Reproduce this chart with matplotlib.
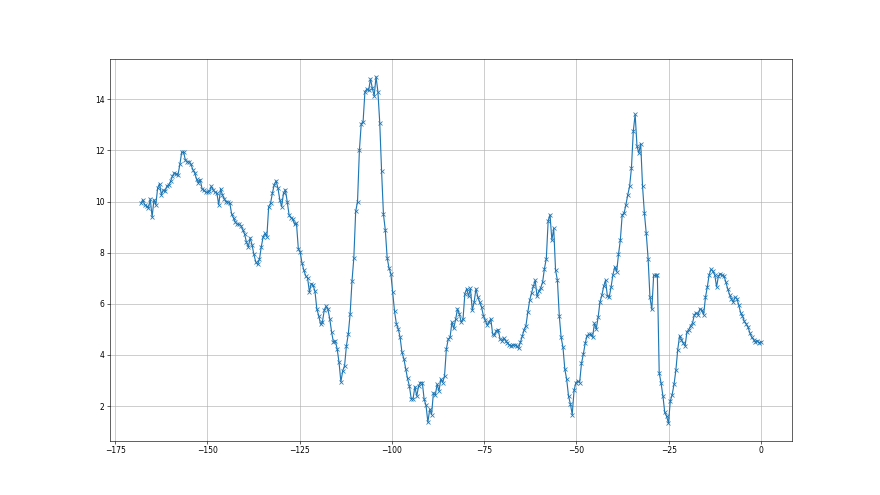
import numpy as np
import matplotlib
matplotlib.use("Agg")
import matplotlib.pyplot as plt

# readings, half-hour steps, oldest first (x runs from -168 to 0)
seg1 = [9.94, 10.07, 9.87, 9.81, 9.74, 10.1, 9.39, 10.07, 9.87, 10.53,
        10.7, 10.27, 10.44, 10.4, 10.6, 10.66, 10.79, 10.99, 11.12, 11.08,
        11.05, 11.45, 11.93, 11.93, 11.62, 11.54, 11.56, 11.45, 11.25, 11.12,
        10.88, 10.73, 10.86, 10.49, 10.44, 10.36, 10.36, 10.4, 10.6, 10.46,
        10.36]
seg2 = [10.33, 9.87, 10.5, 10.26, 10.1, 10.0, 9.97, 9.93, 9.5, 9.35,
        9.19, 9.11, 9.11, 9.06, 8.89, 8.72, 8.4, 8.23, 8.58, 8.3,
        7.93, 7.64, 7.54, 7.74, 8.23, 8.62, 8.75, 8.62, 9.8, 9.93,
        10.33, 10.66, 10.81, 10.52, 10.07, 9.8, 10.33, 10.46, 10.0, 9.48,
        9.37, 9.32, 9.11]
seg3 = [9.15, 8.16, 8.03, 7.59, 7.31, 7.09, 7.01, 6.46, 6.79, 6.72,
        6.49, 5.8, 5.54, 5.21, 5.28, 5.74, 5.91, 5.78, 5.41, 4.89,
        4.49, 4.55, 4.23, 3.71, 2.95, 3.38, 3.58, 4.36, 4.82, 5.61,
        6.88, 7.8, 9.61, 10.0, 12.0, 13.04, 13.12, 14.3, 14.39, 14.35,
        14.79]
seg4 = [14.43, 14.13, 14.88, 14.3, 13.08, 11.18, 9.5, 8.89, 7.8, 7.4,
        7.18, 6.46, 5.7, 5.21, 5.02, 4.69, 4.1, 3.86, 3.47, 3.08,
        2.79, 2.29, 2.29, 2.76, 2.39, 2.79, 2.92, 2.92, 2.26, 2.03,
        1.37, 1.87, 1.67, 2.52, 2.42, 2.85, 2.59, 3.05, 2.92, 3.18,
        4.23, 4.62, 4.69, 5.28]
seg5 = [5.04, 5.39, 5.8, 5.61, 5.28, 5.41, 6.4, 6.59, 6.3, 6.6,
        5.74, 6.07, 6.59, 6.26, 6.07, 5.87, 5.54, 5.35, 5.17, 5.28,
        5.41, 4.82, 4.78, 4.95, 4.99, 4.62, 4.56, 4.65, 4.56, 4.47,
        4.39, 4.36, 4.39, 4.39, 4.36, 4.26, 4.49, 4.73, 4.99, 5.15,
        5.67]
seg6 = [6.13, 6.42, 6.68, 6.92, 6.29, 6.5, 6.63, 6.85, 7.38, 7.77,
        9.25, 9.48, 8.49, 8.95, 7.31, 6.92, 5.54, 4.69, 4.3, 3.44,
        3.05, 2.39, 2.09, 1.67, 2.62, 2.92, 2.98, 2.92, 3.67, 4.03,
        4.45, 4.76, 4.8, 4.8, 4.69, 5.24, 5.02, 5.48, 6.07, 6.33,
        6.68, 6.92]
seg7 = [6.3, 6.26, 6.66, 7.14, 7.44, 7.25, 7.93, 8.49, 9.48, 9.54,
        9.87, 10.26, 10.59, 11.31, 12.75, 13.41, 12.16, 11.9, 12.26, 10.59,
        9.54, 8.75, 7.77, 6.26, 5.78, 7.11, 7.11, 7.11, 3.3, 2.9,
        2.4, 1.75, 1.6, 1.33, 2.2, 2.45, 2.85, 3.4, 4.2, 4.75,
        4.6, 4.47]
seg8 = [4.36, 4.91, 4.99, 5.15, 5.25, 5.57, 5.65, 5.57, 5.8, 5.74,
        5.57, 6.26, 6.66, 7.14, 7.35, 7.27, 7.14, 6.66, 7.09, 7.18,
        7.11, 7.09, 6.85, 6.59, 6.36, 6.2, 6.07, 6.26, 6.2, 5.94,
        5.65, 5.52, 5.31, 5.21, 5.08, 4.86, 4.69, 4.6, 4.52, 4.56,
        4.47, 4.52]

values = np.array(seg1 + seg2 + seg3 + seg4 + seg5 + seg6 + seg7 + seg8)
x = np.linspace(-168, 0, len(values))

fig, ax = plt.subplots(figsize=(16, 9), dpi=55)
ax.plot(x, values, marker="x")
ax.grid(True)

fig.savefig("out.png", dpi=55)
